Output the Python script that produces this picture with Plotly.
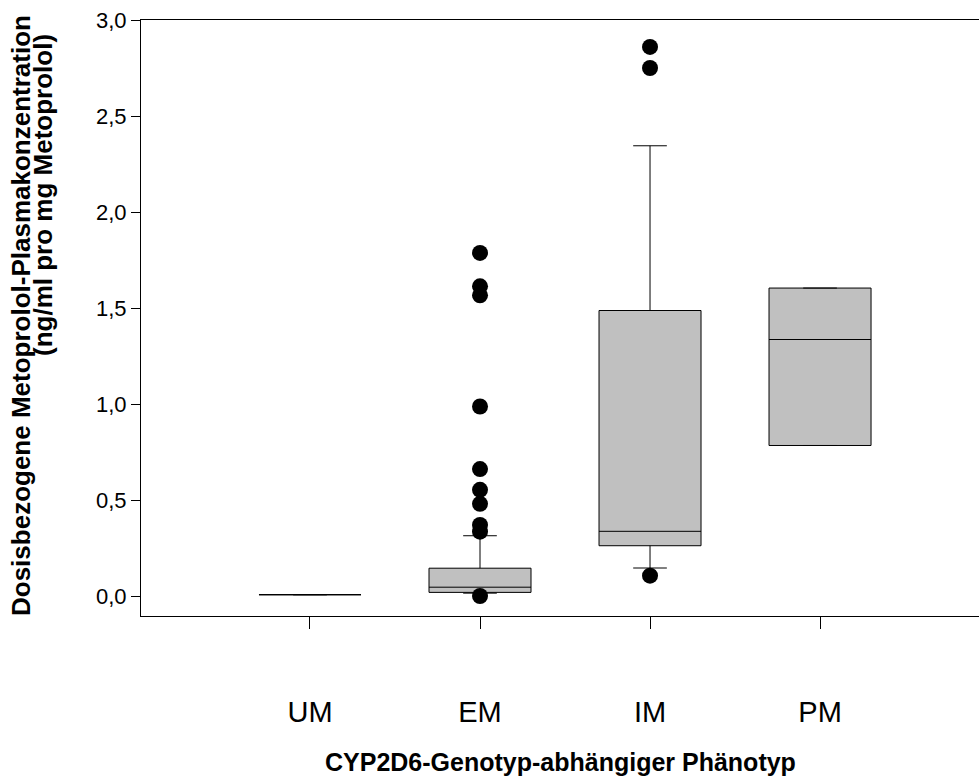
import plotly.graph_objects as go

categories = ["UM", "EM", "IM", "PM"]
q1 = [0.007, 0.019, 0.262, 0.784]
median = [0.007, 0.046, 0.337, 1.336]
q3 = [0.007, 0.145, 1.487, 1.604]
lower_whisker = [0.007, 0.015, 0.146, 0.784]
upper_whisker = [0.007, 0.314, 2.345, 1.604]

em_outliers = [1.787, 1.613, 1.566, 0.987, 0.661, 0.553, 0.480, 0.370, 0.335, 0.0]
im_outliers = [2.860, 2.750, 0.106]

y_ticks = [0.0, 0.5, 1.0, 1.5, 2.0, 2.5, 3.0]

x_title = "CYP2D6-Genotyp-abhängiger Phänotyp"
y_title_1 = "Dosisbezogene Metoprolol-Plasmakonzentration"
y_title_2 = "(ng/ml pro mg Metoprolol)"

FONT = "Liberation Sans, Arial, sans-serif"

fig = go.Figure()
for i, cat in enumerate(categories):
    fig.add_trace(go.Box(
        x=[i], q1=[q1[i]], median=[median[i]], q3=[q3[i]],
        lowerfence=[lower_whisker[i]], upperfence=[upper_whisker[i]],
        width=0.6, whiskerwidth=0.33,
        fillcolor="#c0c0c0", line=dict(color="black", width=1),
        boxpoints=False, showlegend=False, name=cat,
    ))

fig.add_trace(go.Scatter(
    x=[1] * len(em_outliers), y=em_outliers, mode="markers",
    marker=dict(color="black", size=16), showlegend=False, cliponaxis=False,
))
fig.add_trace(go.Scatter(
    x=[2] * len(im_outliers), y=im_outliers, mode="markers",
    marker=dict(color="black", size=16), showlegend=False, cliponaxis=False,
))

W, H = 979, 778
L, R, T, B = 141, 0, 20, 162
pw, ph = W - L - R, H - T - B


def px_x(p):
    return (p - L) / pw


def px_y(p):
    return (H - B - p) / ph


fig.update_layout(
    width=W, height=H,
    margin=dict(l=L, r=R, t=T, b=B),
    paper_bgcolor="white", plot_bgcolor="white",
    separators=", ",
    font=dict(family=FONT, color="black"),
    xaxis=dict(
        range=[-0.994, 3.935],
        tickvals=list(range(len(categories))), ticktext=categories,
        showgrid=False, zeroline=False,
        showline=True, linecolor="black", linewidth=1, mirror=True,
        ticks="outside", ticklen=12, tickcolor="black", tickwidth=1,
        tickfont=dict(size=29, family=FONT),
        ticklabelstandoff=58,
    ),
    yaxis=dict(
        range=[-0.104, 3.0],
        tickvals=y_ticks, tickformat=".1f",
        showgrid=False, zeroline=False,
        showline=True, linecolor="black", linewidth=1,
        ticks="outside", ticklen=9, tickcolor="black", tickwidth=1,
        tickfont=dict(size=22, family=FONT),
    ),
    annotations=[
        dict(text="<b>%s</b>" % x_title, xref="paper", yref="paper",
             x=0.5, y=px_y(762), xanchor="center", yanchor="middle",
             showarrow=False, font=dict(size=25, family=FONT)),
        dict(text="<b>%s</b>" % y_title_1, xref="paper", yref="paper",
             x=px_x(21), y=px_y(316), xanchor="center", yanchor="middle",
             textangle=-90, showarrow=False, font=dict(size=26, family=FONT)),
        dict(text="<b>%s</b>" % y_title_2, xref="paper", yref="paper",
             x=px_x(43), y=px_y(195), xanchor="center", yanchor="middle",
             textangle=-90, showarrow=False, font=dict(size=26, family=FONT)),
    ],
)

fig.write_html("out.html")
